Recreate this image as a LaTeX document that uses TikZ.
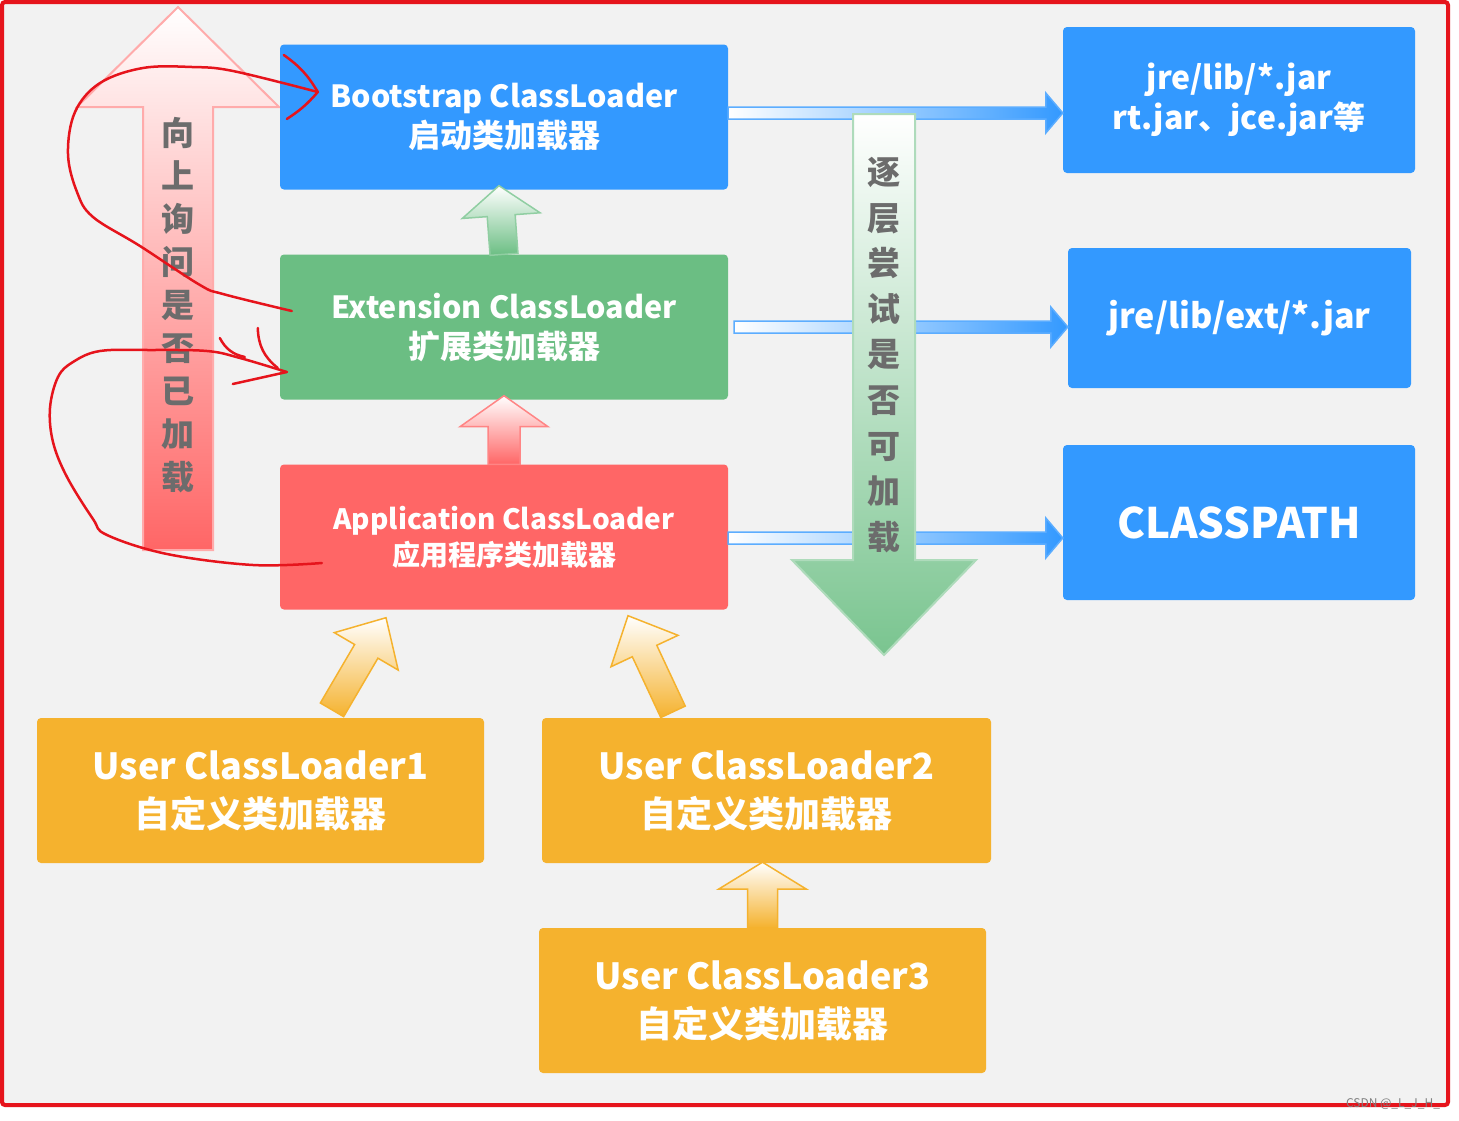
\documentclass[tikz,border=0pt]{standalone}
\usepackage{fontspec}
\setmainfont{Noto Sans CJK SC}
\usetikzlibrary{calc}

\definecolor{loaderblue}{RGB}{51,153,255}
\definecolor{loadergreen}{RGB}{107,190,131}
\definecolor{loaderred}{RGB}{255,102,102}
\definecolor{loaderorange}{RGB}{245,178,46}
\definecolor{paper}{RGB}{242,242,242}
\definecolor{penred}{RGB}{230,20,28}
\definecolor{labelgray}{RGB}{108,108,108}

% block arrow: tail, tip, shaft half width, head half width, head length, style
\newcommand{\blockarrow}[6]{%
  \coordinate (ah) at ($(#2)!#5!(#1)$);
  \path[#6] ($(#1)!#3!90:(#2)$) -- ($(ah)!#3!90:(#2)$) -- ($(ah)!#4!90:(#2)$)
    -- (#2) -- ($(ah)!#4!-90:(#2)$) -- ($(ah)!#3!-90:(#2)$) -- ($(#1)!#3!-90:(#2)$) -- cycle;
}
\newcommand{\latinline}[2]{{\fontsize{#1}{40}\selectfont #2}}

\tikzset{
  loader/.style={rectangle, rounded corners=4pt, inner sep=0pt, text=white, align=center,
    font=\bfseries\fontsize{32}{40}\selectfont},
  bootbox/.style={loader, fill=loaderblue},
  extbox/.style={loader, fill=loadergreen},
  appbox/.style={loader, fill=loaderred, font=\bfseries\fontsize{28}{36}\selectfont},
  userbox/.style={loader, fill=loaderorange, font=\bfseries\fontsize{36}{48}\selectfont},
  pathbox/.style={loader, fill=loaderblue},
  vlabel/.style={align=center, text=labelgray, font=\bfseries\fontsize{33}{43}\selectfont},
  greenup/.style={draw=loadergreen!75, line width=1.5pt, top color=white, bottom color=loadergreen},
  redup/.style={draw=loaderred!80, line width=1.5pt, top color=white, bottom color=loaderred},
  orangeup/.style={draw=loaderorange, line width=1.5pt, top color=white, bottom color=loaderorange},
  pathline/.style={draw=loaderblue!80, line width=1.5pt, left color=white, middle color=loaderblue!45, right color=loaderblue},
  askarrow/.style={draw=loaderred!55, line width=2pt, top color=white, bottom color=loaderred},
  tryarrow/.style={draw=loadergreen!55, line width=2pt, top color=white, bottom color=loadergreen!90},
  redpen/.style={draw=penred, line width=2.5pt, line cap=round, line join=round}
}

\begin{document}
\begin{tikzpicture}[x=1pt, y=-1pt]
  % page and frame
  \useasboundingbox (0,0) rectangle (1459,1120);
  \fill[white] (0,0) rectangle (1459,1120);
  \fill[paper] (2,2) rectangle (1448,1105);
  \draw[penred, line width=4pt, rounded corners=3pt] (2,2) rectangle (1448,1105);

  % big arrow on the left
  \coordinate (askbase) at (178,550);
  \coordinate (asktip) at (178,7);
  \blockarrow{askbase}{asktip}{35pt}{101pt}{100pt}{askarrow}
  \node[vlabel] (asklabel) at (178,305) {向\\上\\询\\问\\是\\否\\已\\加\\载};

  % class loaders
  \node[bootbox, minimum width=448pt, minimum height=145pt] (boot) at (504,117)
    {\latinline{30.5}{Bootstrap ClassLoader}\\启动类加载器};
  \node[extbox, minimum width=448pt, minimum height=145pt] (ext) at (504,327)
    {\latinline{30.5}{Extension ClassLoader}\\扩展类加载器};
  \node[appbox, minimum width=448pt, minimum height=145pt] (app) at (504,537)
    {Application ClassLoader\\应用程序类加载器};
  \node[userbox, minimum width=447pt, minimum height=145pt] (user1) at (260.5,790.5)
    {User ClassLoader1\\自定义类加载器};
  \node[userbox, minimum width=449pt, minimum height=145pt] (user2) at (766.5,790.5)
    {User ClassLoader2\\自定义类加载器};
  \node[userbox, minimum width=447pt, minimum height=145pt] (user3) at (762.5,1000.5)
    {User ClassLoader3\\自定义类加载器};

  % load paths
  \node[pathbox, minimum width=352pt, minimum height=146pt] (jrelib) at (1239,100)
    {\raisebox{-5pt}{jre/lib/*.jar}\\\raisebox{-5pt}{rt.jar、jce.jar等}};
  \node[pathbox, minimum width=343pt, minimum height=140pt,
    font=\bfseries\fontsize{34}{40}\selectfont] (jreext) at (1239.5,318) {jre/lib/ext/*.jar};
  \node[pathbox, minimum width=352pt, minimum height=155pt,
    font=\bfseries\fontsize{42}{48}\selectfont] (classpath) at (1239,522.5) {CLASSPATH};

  % parent arrows
  \coordinate (g1) at (ext.north);
  \coordinate (g2) at ($(boot.south)+(-5,-4)$);
  \blockarrow{g1}{g2}{14pt}{39pt}{30pt}{greenup}
  \coordinate (r1) at (app.north);
  \coordinate (r2) at ($(ext.south)+(0,-4)$);
  \blockarrow{r1}{r2}{16pt}{44pt}{31pt}{redup}
  \coordinate (o1) at ($(user1.north)+(71.5,-8)$);
  \coordinate (o2) at ($(app.south)+(-118,8)$);
  \blockarrow{o1}{o2}{13.5pt}{37pt}{39pt}{orangeup}
  \coordinate (o3) at ($(user2.north)+(-93.5,-6)$);
  \coordinate (o4) at ($(app.south)+(124,6)$);
  \blockarrow{o3}{o4}{13.5pt}{37pt}{39pt}{orangeup}
  \coordinate (o5) at (user3.north);
  \coordinate (o6) at ($(user2.south)+(-4,-1)$);
  \blockarrow{o5}{o6}{15pt}{44pt}{27pt}{orangeup}

  % loader to path
  \coordinate (b1) at ($(boot.east)+(0,-4)$);
  \coordinate (b2) at (b1 -| jrelib.west);
  \blockarrow{b1}{b2}{6pt}{20pt}{17pt}{pathline}
  \coordinate (e1) at ($(ext.east)+(6,0)$);
  \coordinate (e2) at (e1 -| jreext.west);
  \blockarrow{e1}{e2}{6pt}{20pt}{17pt}{pathline}
  \coordinate (a1) at ($(app.east)+(0,1)$);
  \coordinate (a2) at (a1 -| classpath.west);
  \blockarrow{a1}{a2}{6pt}{20pt}{17pt}{pathline}

  % big arrow in the middle
  \coordinate (trybase) at (884,114);
  \coordinate (trytip) at (884,655);
  \blockarrow{trybase}{trytip}{31pt}{92pt}{95pt}{tryarrow}
  \node[vlabel, font=\bfseries\fontsize{33}{45.6}\selectfont] (trylabel) at (884,355)
    {逐\\层\\尝\\试\\是\\否\\可\\加\\载};

  % red pen marks
  \coordinate (c1s) at ($(ext.west)+(12,-16)$);
  \coordinate (c1e) at ($(boot.west)+(38,-25)$);
  \draw[redpen] plot[smooth, tension=0.6] coordinates {(c1s) (223,294) (200,285) (140,246)
    (93,217) (77,192) (68,154) (75,112) (100,83) (143,68) (192,67) (233,71) (c1e)};
  \draw[redpen] ($(c1e)+(-34,-37)$) to[bend left=12] (c1e) to[bend left=8] ($(c1e)+(-31,27)$);
  \coordinate (c2s) at ($(app.west)+(42,26)$);
  \coordinate (c2e) at ($(ext.west)+(7,45)$);
  \draw[redpen] plot[smooth, tension=0.6] coordinates {(c2s) (253,565) (167,554) (107,535)
    (93,519) (67,477) (53,442) (50,408) (58,377) (73,362) (100,351) (150,350) (207,351)
    (240,358) (c2e)};
  \draw[redpen] ($(c2e)+(-54,12)$) -- (c2e);
  \draw[redpen] ($(c2e)+(-67,-34)$) to[bend right=25] ($(c2e)+(-42,-15)$);
  \draw[redpen] ($(c2e)+(-29,-44)$) to[bend right=25] ($(c2e)+(-9,-4)$);

  \node[text=gray, font=\fontsize{12}{12}\selectfont] (mark) at (1393,1104) {CSDN @\_L\_J\_H\_};
\end{tikzpicture}
\end{document}
